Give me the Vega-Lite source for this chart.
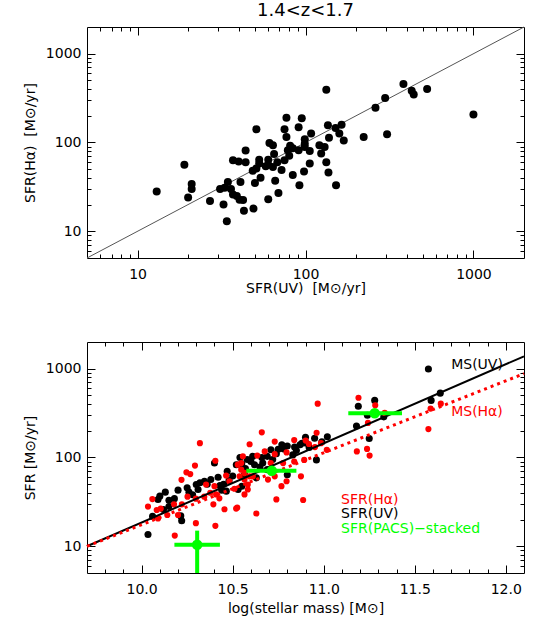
{
  "$schema": "https://vega.github.io/schema/vega-lite/v6.json",
  "autosize": {"type": "pad"},
  "padding": {"left": 23, "top": 2, "right": 5, "bottom": 5},
  "background": "white",
  "config": {
    "font": "DejaVu Sans",
    "view": {"stroke": null},
    "axis": {
      "grid": false, "tickColor": "black", "domainColor": "black", "labelColor": "black", "titleColor": "black",
      "labelFont": "DejaVu Sans", "titleFont": "DejaVu Sans", "labelFontSize": 14, "titleFontSize": 14,
      "titleFontWeight": "normal", "tickWidth": 1, "domainWidth": 1, "labelOverlap": false, "labelFlush": false
    }
  },
  "datasets": {
    "topline": [{"uv": 5, "ha": 5}, {"uv": 2000, "ha": 2000}],
    "top": [{"uv":13,"ha":28},{"uv":19,"ha":56},{"uv":21,"ha":34},{"uv":21,"ha":30},{"uv":20,"ha":24},{"uv":27,"ha":22},{"uv":32.5,"ha":20},{"uv":34,"ha":13},{"uv":31,"ha":30},{"uv":33,"ha":31},{"uv":34.5,"ha":36},{"uv":36,"ha":30},{"uv":37,"ha":26},{"uv":39,"ha":25},{"uv":40.5,"ha":22.6},{"uv":42.5,"ha":22.5},{"uv":43,"ha":17},{"uv":49,"ha":18},{"uv":37,"ha":63},{"uv":40,"ha":61},{"uv":44,"ha":60},{"uv":44,"ha":81},{"uv":51,"ha":141},{"uv":41,"ha":36},{"uv":50,"ha":35},{"uv":54,"ha":40},{"uv":48.5,"ha":48},{"uv":51,"ha":51},{"uv":53,"ha":64},{"uv":60,"ha":64},{"uv":60,"ha":56},{"uv":61,"ha":99},{"uv":60,"ha":23},{"uv":53,"ha":58},{"uv":58,"ha":54},{"uv":64,"ha":93},{"uv":65,"ha":74},{"uv":64,"ha":53},{"uv":68,"ha":60},{"uv":66,"ha":37},{"uv":69,"ha":27},{"uv":72,"ha":49},{"uv":75,"ha":63},{"uv":78.5,"ha":82},{"uv":80,"ha":71},{"uv":81,"ha":92},{"uv":84,"ha":86},{"uv":91,"ha":82},{"uv":84,"ha":43},{"uv":77,"ha":190},{"uv":75,"ha":141},{"uv":77,"ha":115},{"uv":95,"ha":187},{"uv":91,"ha":149},{"uv":99,"ha":109},{"uv":99,"ha":89},{"uv":106,"ha":80},{"uv":108,"ha":126},{"uv":106,"ha":58},{"uv":98,"ha":47},{"uv":92,"ha":33},{"uv":121,"ha":93},{"uv":130,"ha":89},{"uv":124,"ha":75},{"uv":133,"ha":60},{"uv":137,"ha":46},{"uv":152,"ha":33},{"uv":133,"ha":394},{"uv":136,"ha":156},{"uv":151,"ha":146},{"uv":164,"ha":158},{"uv":159,"ha":126},{"uv":169,"ha":105},{"uv":138,"ha":113},{"uv":222,"ha":115},{"uv":306,"ha":124},{"uv":261,"ha":246},{"uv":298,"ha":318},{"uv":383,"ha":456},{"uv":429,"ha":384},{"uv":441,"ha":347},{"uv":530,"ha":401},{"uv":1000,"ha":207},{"uv":99,"ha":97}],
    "black": [{"mass":10.035,"sfr":13.6},{"mass":10.06,"sfr":21.7},{"mass":10.09,"sfr":33.7},{"mass":10.1,"sfr":36.7},{"mass":10.13,"sfr":40.7},{"mass":10.15,"sfr":28},{"mass":10.18,"sfr":34.4},{"mass":10.2,"sfr":42.9},{"mass":10.215,"sfr":22},{"mass":10.22,"sfr":19.4},{"mass":10.25,"sfr":45.6},{"mass":10.26,"sfr":40.7},{"mass":10.3,"sfr":49.6},{"mass":10.31,"sfr":43.6},{"mass":10.32,"sfr":52},{"mass":10.345,"sfr":54},{"mass":10.38,"sfr":56.4},{"mass":10.4,"sfr":86.6},{"mass":10.43,"sfr":48.3},{"mass":10.44,"sfr":42.9},{"mass":10.465,"sfr":41.8},{"mass":10.52,"sfr":83},{"mass":10.53,"sfr":43.6},{"mass":10.9,"sfr":169},{"mass":10.905,"sfr":145},{"mass":10.95,"sfr":165},{"mass":11.02,"sfr":171},{"mass":10.87,"sfr":139},{"mass":10.84,"sfr":131},{"mass":10.8,"sfr":135},{"mass":10.77,"sfr":139},{"mass":10.75,"sfr":124},{"mass":10.69,"sfr":103},{"mass":10.665,"sfr":86.6},{"mass":10.61,"sfr":103},{"mass":10.55,"sfr":85},{"mass":10.62,"sfr":83},{"mass":10.63,"sfr":59},{"mass":10.55,"sfr":47.5},{"mass":10.96,"sfr":94},{"mass":10.8,"sfr":64},{"mass":10.69,"sfr":73},{"mass":10.71,"sfr":122},{"mass":10.83,"sfr":107},{"mass":10.65,"sfr":78},{"mass":10.565,"sfr":64},{"mass":10.54,"sfr":100},{"mass":11.18,"sfr":226},{"mass":11.19,"sfr":377},{"mass":11.28,"sfr":440},{"mass":11.24,"sfr":299},{"mass":11.33,"sfr":287},{"mass":11.25,"sfr":164},{"mass":11.575,"sfr":993},{"mass":11.64,"sfr":531},{"mass":11.59,"sfr":440},{"mass":10.45,"sfr":50},{"mass":10.48,"sfr":55},{"mass":10.5,"sfr":62},{"mass":10.57,"sfr":75},{"mass":10.58,"sfr":95},{"mass":10.6,"sfr":90},{"mass":10.72,"sfr":95},{"mass":10.78,"sfr":125},{"mass":10.85,"sfr":120},{"mass":10.88,"sfr":145},{"mass":10.92,"sfr":130},{"mass":10.99,"sfr":150},{"mass":10.36,"sfr":50},{"mass":10.28,"sfr":38},{"mass":10.15,"sfr":33},{"mass":10.12,"sfr":26},{"mass":10.74,"sfr":110},{"mass":10.66,"sfr":100},{"mass":10.42,"sfr":60},{"mass":10.47,"sfr":70}],
    "red": [{"mass":10.32,"sfr":145},{"mass":10.293,"sfr":81},{"mass":10.405,"sfr":92},{"mass":10.246,"sfr":68},{"mass":10.267,"sfr":65},{"mass":10.219,"sfr":56},{"mass":10.059,"sfr":34},{"mass":10.035,"sfr":28},{"mass":10.083,"sfr":25.6},{"mass":10.105,"sfr":26.6},{"mass":10.09,"sfr":20.6},{"mass":10.141,"sfr":22.5},{"mass":10.178,"sfr":29.7},{"mass":10.221,"sfr":29.7},{"mass":10.2,"sfr":22.5},{"mass":10.252,"sfr":36.2},{"mass":10.298,"sfr":34.4},{"mass":10.344,"sfr":36.2},{"mass":10.354,"sfr":49.6},{"mass":10.377,"sfr":40.1},{"mass":10.4,"sfr":47.5},{"mass":10.409,"sfr":38.4},{"mass":10.394,"sfr":29.7},{"mass":10.427,"sfr":34.7},{"mass":10.455,"sfr":26.1},{"mass":10.519,"sfr":26.6},{"mass":10.298,"sfr":18.2},{"mass":10.405,"sfr":17},{"mass":10.182,"sfr":13.2},{"mass":10.464,"sfr":62.5},{"mass":10.482,"sfr":54},{"mass":10.51,"sfr":44.5},{"mass":10.528,"sfr":83},{"mass":10.547,"sfr":73},{"mass":10.538,"sfr":61.4},{"mass":10.556,"sfr":103},{"mass":10.66,"sfr":192},{"mass":10.593,"sfr":141},{"mass":10.731,"sfr":151},{"mass":10.635,"sfr":105},{"mass":10.676,"sfr":117},{"mass":10.731,"sfr":109},{"mass":10.796,"sfr":114},{"mass":10.838,"sfr":157},{"mass":10.901,"sfr":155},{"mass":10.919,"sfr":142},{"mass":10.961,"sfr":190},{"mass":10.985,"sfr":145},{"mass":10.952,"sfr":131},{"mass":11.017,"sfr":122},{"mass":10.893,"sfr":94},{"mass":10.838,"sfr":90},{"mass":10.777,"sfr":86.6},{"mass":10.709,"sfr":86.6},{"mass":10.547,"sfr":86.6},{"mass":10.565,"sfr":67},{"mass":10.593,"sfr":61.4},{"mass":10.565,"sfr":56.4},{"mass":10.583,"sfr":49.6},{"mass":10.611,"sfr":61.4},{"mass":10.694,"sfr":56.4},{"mass":10.731,"sfr":61.4},{"mass":10.796,"sfr":54},{"mass":10.875,"sfr":61.4},{"mass":10.768,"sfr":47.5},{"mass":10.583,"sfr":43.6},{"mass":10.565,"sfr":38.4},{"mass":10.74,"sfr":33.7},{"mass":10.887,"sfr":33.2},{"mass":10.525,"sfr":27.3},{"mass":10.63,"sfr":23.4},{"mass":11.191,"sfr":471},{"mass":11.283,"sfr":387},{"mass":11.335,"sfr":318},{"mass":11.243,"sfr":245},{"mass":11.182,"sfr":117},{"mass":11.238,"sfr":125},{"mass":11.252,"sfr":105},{"mass":10.967,"sfr":404},{"mass":11.587,"sfr":356},{"mass":11.643,"sfr":404},{"mass":11.575,"sfr":209}],
    "msuv": [{"mass": 9.7, "sfr": 10}, {"mass": 12.1, "sfr": 1380}],
    "msha": [{"mass": 9.7, "sfr": 10}, {"mass": 12.1, "sfr": 880}],
    "pacs": [{"mass":10.305,"sfr":10.4,"mass_lo":10.18,"mass_hi":10.43,"sfr_lo":3,"sfr_hi":15},{"mass":10.715,"sfr":71,"mass_lo":10.575,"mass_hi":10.85,"sfr_lo":65,"sfr_hi":78},{"mass":11.28,"sfr":315,"mass_lo":11.135,"mass_hi":11.43,"sfr_lo":292,"sfr_hi":338}],
    "labels": [{"label":"MS(UV)","series":"UV","mass":11.7,"sfr":1110},{"label":"MS(Hα)","series":"Ha","mass":11.7,"sfr":323},{"label":"SFR(Hα)","series":"Ha","mass":11.095,"sfr":32.9},{"label":"SFR(UV)","series":"UV","mass":11.095,"sfr":23},{"label":"SFR(PACS)−stacked","series":"PACS","mass":11.095,"sfr":15.8}]
  },
  "vconcat": [
    {
      "width": 437, "height": 231,
      "title": {"text": "1.4<z<1.7", "fontSize": 18, "font": "DejaVu Sans", "fontWeight": "normal", "color": "black", "offset": -10, "baseline": "alphabetic", "anchor": "middle"},
      "resolve": {"axis": {"x": "independent", "y": "independent"}},
      "layer": [
        {
          "data": {"name": "topline"},
          "mark": {"type": "line", "color": "#555555", "strokeWidth": 1},
          "encoding": {
            "x": {"field": "uv", "type": "quantitative", "scale": {"type": "log", "domain": [5, 2000], "nice": false},
                  "axis": {"orient": "bottom", "values": [10, 100, 1000], "format": "d", "ticks": false, "domain": true, "labelPadding": 9, "title": "SFR(UV)\u00a0 [M⊙/yr]", "titlePadding": 0}},
            "y": {"field": "ha", "type": "quantitative", "scale": {"type": "log", "domain": [5, 2000], "nice": false},
                  "axis": {"orient": "left", "values": [10, 100, 1000], "format": "d", "ticks": false, "domain": true, "labelPadding": 6, "title": "SFR(Hα)\u00a0 [M⊙/yr]", "titlePadding": 8}}
          }
        },
        {
          "data": {"name": "top"},
          "mark": {"type": "circle", "color": "black", "opacity": 1, "size": 64},
          "encoding": {
            "x": {"field": "uv", "type": "quantitative", "scale": {"type": "log", "domain": [5, 2000], "nice": false},
                  "axis": {"orient": "bottom", "values": [10, 100, 1000], "labels": false, "domain": false, "ticks": true, "tickSize": -8, "title": null}},
            "y": {"field": "ha", "type": "quantitative", "scale": {"type": "log", "domain": [5, 2000], "nice": false},
                  "axis": {"orient": "left", "values": [10, 100, 1000], "labels": false, "domain": false, "ticks": true, "tickSize": -8, "title": null}}
          }
        },
        {
          "data": {"name": "topline"},
          "mark": {"type": "point", "opacity": 0},
          "encoding": {
            "x": {"field": "uv", "type": "quantitative", "scale": {"type": "log", "domain": [5, 2000], "nice": false},
                  "axis": {"orient": "bottom", "values": [6,7,8,9,20,30,40,50,60,70,80,90,200,300,400,500,600,700,800,900], "labels": false, "domain": false, "ticks": true, "tickSize": -4, "title": null}},
            "y": {"field": "ha", "type": "quantitative", "scale": {"type": "log", "domain": [5, 2000], "nice": false},
                  "axis": {"orient": "left", "values": [6,7,8,9,20,30,40,50,60,70,80,90,200,300,400,500,600,700,800,900], "labels": false, "domain": false, "ticks": true, "tickSize": -4, "title": null}}
          }
        },
        {
          "data": {"name": "topline"},
          "mark": {"type": "point", "opacity": 0},
          "encoding": {
            "x": {"field": "uv", "type": "quantitative", "scale": {"type": "log", "domain": [5, 2000], "nice": false},
                  "axis": {"orient": "top", "values": [10, 100, 1000], "labels": false, "domain": true, "ticks": true, "tickSize": -8, "title": null}},
            "y": {"field": "ha", "type": "quantitative", "scale": {"type": "log", "domain": [5, 2000], "nice": false},
                  "axis": {"orient": "right", "values": [10, 100, 1000], "labels": false, "domain": true, "ticks": true, "tickSize": -8, "title": null}}
          }
        },
        {
          "data": {"name": "topline"},
          "mark": {"type": "point", "opacity": 0},
          "encoding": {
            "x": {"field": "uv", "type": "quantitative", "scale": {"type": "log", "domain": [5, 2000], "nice": false},
                  "axis": {"orient": "top", "values": [6,7,8,9,20,30,40,50,60,70,80,90,200,300,400,500,600,700,800,900], "labels": false, "domain": false, "ticks": true, "tickSize": -4, "title": null}},
            "y": {"field": "ha", "type": "quantitative", "scale": {"type": "log", "domain": [5, 2000], "nice": false},
                  "axis": {"orient": "right", "values": [6,7,8,9,20,30,40,50,60,70,80,90,200,300,400,500,600,700,800,900], "labels": false, "domain": false, "ticks": true, "tickSize": -4, "title": null}}
          }
        }
      ]
    },
    {
      "width": 437, "height": 231,
      "resolve": {"axis": {"x": "independent", "y": "independent"}},
      "layer": [
        {
          "data": {"name": "black"},
          "mark": {"type": "circle", "color": "black", "opacity": 1, "size": 50},
          "encoding": {
            "x": {"field": "mass", "type": "quantitative", "scale": {"domain": [9.7, 12.1], "nice": false, "zero": false},
                  "axis": {"orient": "bottom", "values": [10, 10.5, 11, 11.5, 12], "format": ".1f", "ticks": false, "domain": true, "labelPadding": 9, "title": "log(stellar mass) [M⊙]", "titlePadding": 5}},
            "y": {"field": "sfr", "type": "quantitative", "scale": {"type": "log", "domain": [5, 2000], "nice": false},
                  "axis": {"orient": "left", "values": [10, 100, 1000], "format": "d", "ticks": false, "domain": true, "labelPadding": 6, "title": "SFR [M⊙/yr]", "titlePadding": 8}}
          }
        },
        {
          "data": {"name": "red"},
          "mark": {"type": "circle", "color": "#ff0000", "opacity": 1, "size": 38},
          "encoding": {
            "x": {"field": "mass", "type": "quantitative", "scale": {"domain": [9.7, 12.1], "nice": false, "zero": false},
                  "axis": {"orient": "bottom", "values": [10, 10.5, 11, 11.5, 12], "labels": false, "domain": false, "ticks": true, "tickSize": -8, "title": null}},
            "y": {"field": "sfr", "type": "quantitative", "scale": {"type": "log", "domain": [5, 2000], "nice": false},
                  "axis": {"orient": "left", "values": [10, 100, 1000], "labels": false, "domain": false, "ticks": true, "tickSize": -8, "title": null}}
          }
        },
        {
          "data": {"name": "msuv"},
          "mark": {"type": "line", "color": "black", "strokeWidth": 2},
          "encoding": {
            "x": {"field": "mass", "type": "quantitative", "scale": {"domain": [9.7, 12.1], "nice": false, "zero": false},
                  "axis": {"orient": "bottom", "values": [9.8,9.9,10.1,10.2,10.3,10.4,10.6,10.7,10.8,10.9,11.1,11.2,11.3,11.4,11.6,11.7,11.8,11.9], "labels": false, "domain": false, "ticks": true, "tickSize": -4, "title": null}},
            "y": {"field": "sfr", "type": "quantitative", "scale": {"type": "log", "domain": [5, 2000], "nice": false},
                  "axis": {"orient": "left", "values": [6,7,8,9,20,30,40,50,60,70,80,90,200,300,400,500,600,700,800,900], "labels": false, "domain": false, "ticks": true, "tickSize": -4, "title": null}}
          }
        },
        {
          "data": {"name": "msha"},
          "mark": {"type": "line", "color": "#ff0000", "strokeWidth": 3, "strokeDash": [3, 4]},
          "encoding": {
            "x": {"field": "mass", "type": "quantitative", "scale": {"domain": [9.7, 12.1], "nice": false, "zero": false},
                  "axis": {"orient": "top", "values": [10, 10.5, 11, 11.5, 12], "labels": false, "domain": true, "ticks": true, "tickSize": -8, "title": null}},
            "y": {"field": "sfr", "type": "quantitative", "scale": {"type": "log", "domain": [5, 2000], "nice": false},
                  "axis": {"orient": "right", "values": [10, 100, 1000], "labels": false, "domain": true, "ticks": true, "tickSize": -8, "title": null}}
          }
        },
        {
          "data": {"name": "pacs"},
          "mark": {"type": "rule", "color": "#00ff00", "strokeWidth": 4, "clip": true},
          "encoding": {
            "x": {"field": "mass_lo", "type": "quantitative", "scale": {"domain": [9.7, 12.1], "nice": false, "zero": false},
                  "axis": {"orient": "top", "values": [9.8,9.9,10.1,10.2,10.3,10.4,10.6,10.7,10.8,10.9,11.1,11.2,11.3,11.4,11.6,11.7,11.8,11.9], "labels": false, "domain": false, "ticks": true, "tickSize": -4, "title": null}},
            "x2": {"field": "mass_hi"},
            "y": {"field": "sfr", "type": "quantitative", "scale": {"type": "log", "domain": [5, 2000], "nice": false},
                  "axis": {"orient": "right", "values": [6,7,8,9,20,30,40,50,60,70,80,90,200,300,400,500,600,700,800,900], "labels": false, "domain": false, "ticks": true, "tickSize": -4, "title": null}}
          }
        },
        {
          "data": {"name": "pacs"},
          "mark": {"type": "rule", "color": "#00ff00", "strokeWidth": 4, "clip": true},
          "encoding": {
            "x": {"field": "mass", "type": "quantitative", "axis": null},
            "y": {"field": "sfr_lo", "type": "quantitative", "axis": null},
            "y2": {"field": "sfr_hi"}
          }
        },
        {
          "data": {"name": "pacs"},
          "mark": {"type": "circle", "color": "#00ff00", "opacity": 1, "size": 110},
          "encoding": {
            "x": {"field": "mass", "type": "quantitative", "axis": null},
            "y": {"field": "sfr", "type": "quantitative", "axis": null}
          }
        },
        {
          "data": {"name": "labels"},
          "mark": {"type": "text", "align": "left", "baseline": "middle", "fontSize": 14, "font": "DejaVu Sans"},
          "encoding": {
            "x": {"field": "mass", "type": "quantitative", "axis": null},
            "y": {"field": "sfr", "type": "quantitative", "axis": null},
            "text": {"field": "label"},
            "color": {"field": "series", "type": "nominal", "scale": {"domain": ["Ha", "UV", "PACS"], "range": ["#ff0000", "#000000", "#00ff00"]}, "legend": null}
          }
        }
      ]
    }
  ],
  "spacing": 84,
  "bounds": "flush"
}
